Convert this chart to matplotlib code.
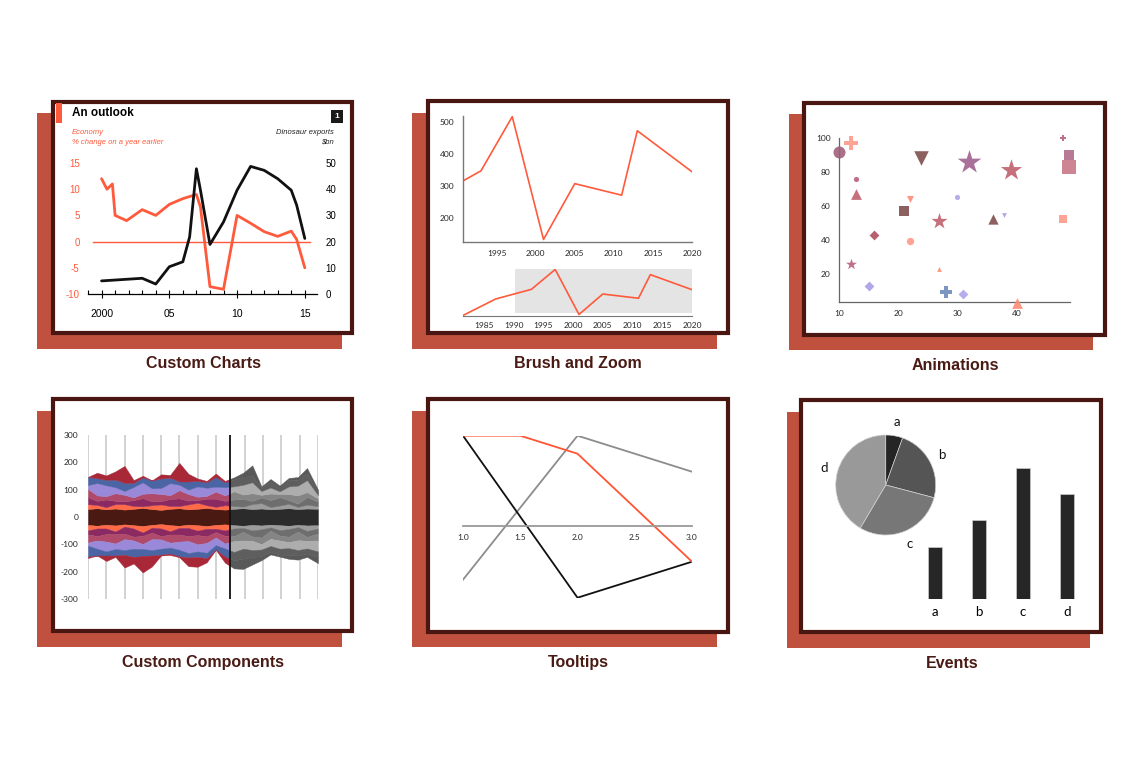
import numpy as np
import matplotlib
matplotlib.use('Agg')
import matplotlib.pyplot as plt
from matplotlib.patches import Rectangle

# ---- data --------------------------------------------------------------
# Custom Charts
econ_years = [2000, 2000.4, 2000.8, 2001, 2001.85, 2003, 2004, 2005, 2006, 2007,
              2007.3, 2008, 2009, 2010, 2011, 2012, 2013, 2014, 2014.4, 2015]
econ_vals = [12, 10, 11, 5, 4, 6.1, 5, 7.1, 8.2, 9, 6.6, -8.6, -9.1, 5, 3.5, 1.9, 1, 2, 0.4, -5]
dino_years = [2000, 2003, 2004, 2005, 2006, 2006.5, 2007, 2007.3, 2008, 2009,
              2010, 2011, 2012, 2013, 2014, 2014.4, 2015]
dino_vals = [5, 6, 3.8, 10.4, 12.3, 21.8, 47.8, 39.6, 18.9, 27.5, 39.6, 48.7, 47.2, 44, 39.6, 33.9, 21.2]

# Brush and Zoom
brush_years = [1981.5, 1987, 1993, 1997, 2001, 2005, 2011, 2013, 2020]
brush_vals = [125, 265, 347, 516, 133, 307, 271, 472, 344]

# Animations
sc_x = [10, 12, 12.9, 12.9, 12, 15.9, 15, 23.9, 21, 22, 22, 26.9, 26.9, 28, 30, 31, 32,
        36, 37.9, 39, 40, 47.9, 48.9, 48.9, 47.9]
sc_y = [92, 97, 76, 67, 26, 43, 13, 88, 57, 64, 39, 51, 22.5, 9, 65, 8, 86,
        52.5, 54.5, 81, 3, 100, 90, 83, 52]
sc_shape = ['o', 'P', 'o', '^', '*', 'D', 'D', 'v', 's', 'v', 'o', '*', '^', 'P', 'o', 'D', '*',
            '^', 'v', '*', '^', 'P', 's', 's', 's']
sc_size = [75, 100, 14, 60, 70, 25, 25, 110, 45, 25, 28, 150, 12, 70, 14, 25, 320,
           55, 12, 260, 60, 20, 50, 110, 40]
sc_color = ['#a0607a', '#ff9a8a', '#b8607a', '#c0606e', '#b8607a', '#b04e62', '#a99ee6',
            '#7e4f4c', '#7e4f4c', '#ff8a76', '#ff9a8a', '#c0606e', '#ff8a76', '#7088bb',
            '#b0a4ea', '#b0a4ea', '#a0608f', '#7e4f4c', '#a99ee6', '#c0606e', '#ff8a76',
            '#b8607a', '#b06a88', '#c87888', '#ff9a8a']

# Custom Components (streamgraph layers, from the center band outwards)
stream_x = list(np.arange(0, 12.5, 0.5)) + [12.6]
stream_center = [58, 64, 56, 62, 54, 60, 66, 58, 52, 60, 64, 56, 60, 66, 58, 54,
                 60, 64, 58, 62, 56, 60, 64, 58, 62, 60]
upper_layers = [
    [18, 12, 8, 16, 20, 10, 6, 14, 20, 10, 8, 18, 22, 10, 8, 16, 10, 6, 18, 20, 8, 12, 16, 8, 14, 10],
    [25, 15, 28, 12, 10, 22, 30, 14, 12, 26, 28, 14, 10, 24, 30, 16, 24, 28, 12, 20, 26, 30, 14, 12, 28, 16],
    [30, 20, 12, 28, 24, 10, 16, 30, 26, 14, 30, 24, 12, 10, 26, 20, 30, 16, 28, 10, 24, 12, 22, 30, 18, 12],
    [15, 45, 40, 22, 14, 38, 42, 18, 22, 44, 20, 16, 38, 30, 18, 30, 18, 36, 40, 14, 22, 10, 28, 36, 44, 12],
    [30, 18, 20, 28, 30, 15, 18, 29, 35, 20, 12, 30, 20, 20, 35, 18, 25, 30, 22, 12, 20, 12, 25, 20, 24, 10],
    [0, 20, 16, 30, 62, 10, 6, 0, 15, 10, 68, 28, 9, 5, 13, 5, 8, 14, 40, 5, 11, 9, 6, 11, 20, 10],
]
lower_layers = [
    [20, 10, 14, 22, 8, 12, 24, 10, 16, 22, 8, 12, 20, 10, 14, 22, 12, 8, 20, 14, 10, 18, 12, 8, 20, 12],
    [14, 28, 20, 10, 26, 30, 12, 18, 28, 12, 24, 30, 16, 28, 12, 20, 28, 14, 22, 30, 12, 20, 28, 16, 22, 18],
    [30, 16, 28, 34, 20, 14, 30, 24, 12, 30, 26, 18, 34, 24, 20, 28, 18, 32, 16, 24, 30, 18, 20, 32, 14, 26],
    [12, 30, 36, 20, 40, 30, 18, 40, 34, 18, 30, 44, 26, 36, 28, 18, 40, 30, 34, 20, 26, 30, 22, 36, 28, 40],
    [40, 25, 15, 24, 18, 30, 25, 20, 22, 22, 24, 16, 20, 20, 17, 30, 30, 36, 25, 24, 20, 22, 24, 20, 18, 20],
    [5, 0, 20, 5, 46, 24, 61, 40, 3, 5, 3, 32, 36, 15, 0, 22, 30, 38, 28, 15, 11, 7, 15, 15, 13, 23],
]
stream_grid = [0, 1, 2, 3, 4, 5, 6, 7, 8.6, 9.6, 10.6, 11.6, 12.6]
stream_split = 7.8

# Tooltips
tip_red_x = [1, 1.5, 2, 3]
tip_red_y = [100, 100, 80, -40]
tip_black_x = [1, 2, 3]
tip_black_y = [100, -80, -40]
tip_grey_x = [1, 2, 3]
tip_grey_y = [-60, 100, 60]

# Events
ev_labels = ['a', 'b', 'c', 'd']
pie_vals = [5.5, 23.6, 29.4, 41.5]
bar_vals = [4, 6, 10, 8]

# ---- layout ------------------------------------------------------------
W, H = 1144, 758
fig = plt.figure(figsize=(W / 100, H / 100), dpi=100)

SHADOW = '#c0513f'
FRAME = '#4a1611'
TITLE = '#4a1a14'
ORANGE = '#ff5a3c'


def box(x0, y0, x1, y1):
    return [x0 / W, 1 - y1 / H, (x1 - x0) / W, (y1 - y0) / H]


def ftext(x, y, s, **kw):
    return fig.text(x / W, 1 - y / H, s, **kw)


def card(frame, shadow, title, tx, ty):
    sx0, sy0, sx1, sy1 = shadow
    fig.add_artist(Rectangle((sx0 / W, 1 - sy1 / H), (sx1 - sx0) / W, (sy1 - sy0) / H,
                             transform=fig.transFigure, facecolor=SHADOW, edgecolor='none', zorder=-3))
    fx0, fy0, fx1, fy1 = frame
    fig.add_artist(Rectangle((fx0 / W, 1 - fy1 / H), (fx1 - fx0) / W, (fy1 - fy0) / H,
                             transform=fig.transFigure, facecolor='white', edgecolor=FRAME,
                             linewidth=3, zorder=-2))
    ftext(tx, ty, title, ha='center', va='center', color=TITLE, fontsize=11.5,
          fontweight='bold', family='Liberation Sans')


card((53, 102, 352, 333), (37, 113, 342, 349), 'Custom Charts', 203, 364)
card((428, 101, 728, 333), (412, 113, 717, 349), 'Brush and Zoom', 578, 364)
card((804, 103, 1105, 335), (789, 114, 1093, 350), 'Animations', 955, 366)
card((53, 399, 352, 631), (37, 411, 342, 647), 'Custom Components', 203, 663)
card((428, 399, 728, 632), (412, 411, 717, 647), 'Tooltips', 578, 663)
card((801, 400, 1101, 632), (787, 412, 1090, 648), 'Events', 952, 663)

TICK = '#262626'

# ---- Custom Charts -----------------------------------------------------
fig.add_artist(Rectangle((56 / W, 1 - 123 / H), 6 / W, 20 / H, transform=fig.transFigure,
                         facecolor=ORANGE, edgecolor='none'))
ftext(72, 113, 'An outlook', ha='left', va='center', fontsize=8.5, fontweight='bold',
      family='Liberation Sans', color='black')
fig.add_artist(Rectangle((331 / W, 1 - 123 / H), 12 / W, 13 / H, transform=fig.transFigure,
                         facecolor='#1a1a1a', edgecolor='none'))
ftext(337, 116.5, '1', ha='center', va='center', fontsize=6, fontweight='bold',
      family='Liberation Sans', color='white')
ftext(72, 133, 'Economy', ha='left', va='center', fontsize=5.5, style='italic',
      family='Liberation Sans', color=ORANGE)
ftext(72, 142, '% change on a year earlier', ha='left', va='center', fontsize=5.5,
      style='italic', family='Liberation Sans', color=ORANGE)
ftext(334, 133, 'Dinosaur exports', ha='right', va='center', fontsize=5.5, style='italic',
      family='Liberation Sans', color='#222222')
ftext(334, 142, '$bn', ha='right', va='center', fontsize=5.5, style='italic',
      family='Liberation Sans', color='#222222')

ax1 = fig.add_axes(box(88, 163, 317, 294))
ax1.patch.set_alpha(0)
ax1.axhline(0, color=ORANGE, lw=1, xmin=0.02, xmax=0.97)
ax1.plot(econ_years, econ_vals, color=ORANGE, lw=2, solid_capstyle='round', zorder=3)
ax1.set_xlim(1999, 2015.9)
ax1.set_ylim(-10, 15)
ax1.set_yticks([-10, -5, 0, 5, 10, 15])
ax1.set_yticklabels(['-10', '-5', '0', '5', '10', '15'], color=ORANGE,
                    family='Liberation Sans', fontsize=7)
ax1.set_xticks([2000, 2005, 2010, 2015])
ax1.set_xticklabels(['2000', '05', '10', '15'], family='Liberation Sans', fontsize=7.5)
ax1.set_xticks(range(1999, 2016), minor=True)
ax1.tick_params(axis='y', length=0, pad=6)
ax1.tick_params(axis='x', which='major', direction='inout', length=6, width=0.8, pad=8)
ax1.tick_params(axis='x', which='minor', direction='in', length=3, width=0.8)
for s in ['top', 'left', 'right']:
    ax1.spines[s].set_visible(False)
ax1.spines['bottom'].set_linewidth(0.9)

ax1r = ax1.twinx()
ax1r.plot(dino_years, dino_vals, color='#111111', lw=2, solid_capstyle='round', zorder=3)
ax1r.set_ylim(0, 50)
ax1r.set_yticks([0, 10, 20, 30, 40, 50])
ax1r.set_yticklabels(['0', '10', '20', '30', '40', '50'], family='Liberation Sans', fontsize=7)
ax1r.tick_params(axis='y', length=0, pad=6)
for s in ['top', 'left', 'right', 'bottom']:
    ax1r.spines[s].set_visible(False)


def style_ticks(ax, pad=6):
    ax.tick_params(length=0, pad=pad, labelsize=6, labelcolor=TICK)
    for lab in ax.get_xticklabels() + ax.get_yticklabels():
        lab.set_family('Lato')


# ---- Brush and Zoom ----------------------------------------------------
ax2 = fig.add_axes(box(463, 116, 692, 242))
ax2.patch.set_alpha(0)
ax2.plot(brush_years, brush_vals, color=ORANGE, lw=1.2)
ax2.set_xlim(1990.7, 2020)
ax2.set_ylim(125, 518)
ax2.set_yticks([200, 300, 400, 500])
ax2.set_xticks([1995, 2000, 2005, 2010, 2015, 2020])
style_ticks(ax2)
for s in ['top', 'right']:
    ax2.spines[s].set_visible(False)
for s in ['left', 'bottom']:
    ax2.spines[s].set_color('#777777')
    ax2.spines[s].set_linewidth(1)

ax2b = fig.add_axes(box(463, 269, 692, 316))
ax2b.patch.set_alpha(0)
ax2b.axvspan(1990.3, 2020, ymin=0.06, ymax=1, color='#e4e4e4', lw=0)
ax2b.plot(brush_years, brush_vals, color=ORANGE, lw=1.2)
ax2b.set_xlim(1981.5, 2020)
ax2b.set_ylim(120, 520)
ax2b.set_yticks([])
ax2b.set_xticks([1985, 1990, 1995, 2000, 2005, 2010, 2015, 2020])
style_ticks(ax2b, pad=4)
for s in ['top', 'right', 'left']:
    ax2b.spines[s].set_visible(False)
ax2b.spines['bottom'].set_color('#777777')

# ---- Animations --------------------------------------------------------
ax3 = fig.add_axes(box(839, 138, 1070, 302))
ax3.patch.set_alpha(0)
for x, y, m, s, c in zip(sc_x, sc_y, sc_shape, sc_size, sc_color):
    ax3.scatter([x], [y], marker=m, s=s, color=c, alpha=0.9, lw=0, clip_on=False, zorder=3)
ax3.set_xlim(10, 49)
ax3.set_ylim(3.3, 100)
ax3.set_xticks([10, 20, 30, 40])
ax3.set_yticks([20, 40, 60, 80, 100])
style_ticks(ax3)
for s in ['top', 'right']:
    ax3.spines[s].set_visible(False)
for s in ['left', 'bottom']:
    ax3.spines[s].set_color('#666666')
    ax3.spines[s].set_linewidth(0.9)

# ---- Custom Components -------------------------------------------------
ax4 = fig.add_axes(box(88, 435, 318, 599))
ax4.patch.set_alpha(0)
for gx in stream_grid:
    ax4.axvline(gx, color='#cfcfcf', lw=1.3, zorder=0)

colour_pal = ['#4a1a12', '#ff6a48', '#8b2a62', '#b04a6a', '#9a88d8', '#4a64a4', '#a82838']
grey_pal = ['#2b2b2b', '#9c9c9c', '#6e6e6e', '#858585', '#adadad', '#5e5e5e', '#595959']


def draw_stream(ax, pal, x0, x1):
    clip = Rectangle((x0, -300), x1 - x0, 600, transform=ax.transData)
    center = np.array(stream_center, dtype=float)
    polys = [ax.fill_between(stream_x, -center / 2, center / 2, color=pal[0], lw=0.3)]
    base = center / 2
    for layer, col in zip(upper_layers, pal[1:]):
        top = base + np.array(layer)
        polys.append(ax.fill_between(stream_x, base, top, color=col, lw=0.3))
        base = top
    base = -center / 2
    for layer, col in zip(lower_layers, pal[1:]):
        bot = base - np.array(layer)
        polys.append(ax.fill_between(stream_x, bot, base, color=col, lw=0.3))
        base = bot
    for p in polys:
        p.set_zorder(1)
        p.set_clip_path(clip)


draw_stream(ax4, colour_pal, 0, stream_split)
draw_stream(ax4, grey_pal, stream_split, 12.6)
ax4.axvline(stream_split, color='#111111', lw=1.3, zorder=2)
ax4.set_xlim(0, 12.6)
ax4.set_ylim(-300, 300)
ax4.set_xticks([])
ax4.set_yticks([-300, -200, -100, 0, 100, 200, 300])
ax4.set_yticklabels(['-300', '-200', '-100', '0', '100', '200', '300'])
style_ticks(ax4, pad=7)
for s in ax4.spines.values():
    s.set_visible(False)

# ---- Tooltips ----------------------------------------------------------
ax5 = fig.add_axes(box(463, 435.7, 692, 597.7))
ax5.patch.set_alpha(0)
ax5.plot(tip_grey_x, tip_grey_y, color='#8c8c8c', lw=1.3)
ax5.plot(tip_black_x, tip_black_y, color='#111111', lw=1.3)
ax5.plot(tip_red_x, tip_red_y, color='#ff5533', lw=1.3)
ax5.set_xlim(1, 3)
ax5.set_ylim(-80, 100)
ax5.spines['bottom'].set_position(('data', 0))
ax5.spines['bottom'].set_color('#999999')
ax5.spines['bottom'].set_linewidth(1.3)
for s in ['top', 'right', 'left']:
    ax5.spines[s].set_visible(False)
ax5.set_yticks([])
ax5.set_xticks([1.0, 1.5, 2.0, 2.5, 3.0])
ax5.set_xticklabels(['1.0', '1.5', '2.0', '2.5', '3.0'])
style_ticks(ax5)

# ---- Events ------------------------------------------------------------
ax6 = fig.add_axes(box(835.7, 435, 935.7, 535))
wedges, texts = ax6.pie(pie_vals, labels=ev_labels, colors=['#252525', '#555555', '#777777', '#999999'],
                        startangle=90, counterclock=False, labeldistance=1.27,
                        wedgeprops=dict(edgecolor='#d0d0d0', linewidth=0.5),
                        textprops=dict(family='Lato', fontsize=9.5, color='#111111'))
for t in texts:
    t.set_ha('center')
    t.set_va('center')
ax6.set_xlim(-1, 1)
ax6.set_ylim(-1, 1)
ax6.set_aspect('equal')

ax7 = fig.add_axes(box(913, 468, 1089, 599))
ax7.patch.set_alpha(0)
ax7.bar(range(len(bar_vals)), bar_vals, width=0.3, color='#262626', edgecolor='#cccccc', lw=0.5)
ax7.set_xlim(-0.5, 3.5)
ax7.set_ylim(0, 10)
ax7.set_yticks([])
ax7.set_xticks(range(len(ev_labels)))
ax7.set_xticklabels(ev_labels, family='Lato', fontsize=9.5)
ax7.tick_params(length=0, pad=5)
for s in ax7.spines.values():
    s.set_visible(False)

fig.savefig('out.png', dpi=100, facecolor='white')
